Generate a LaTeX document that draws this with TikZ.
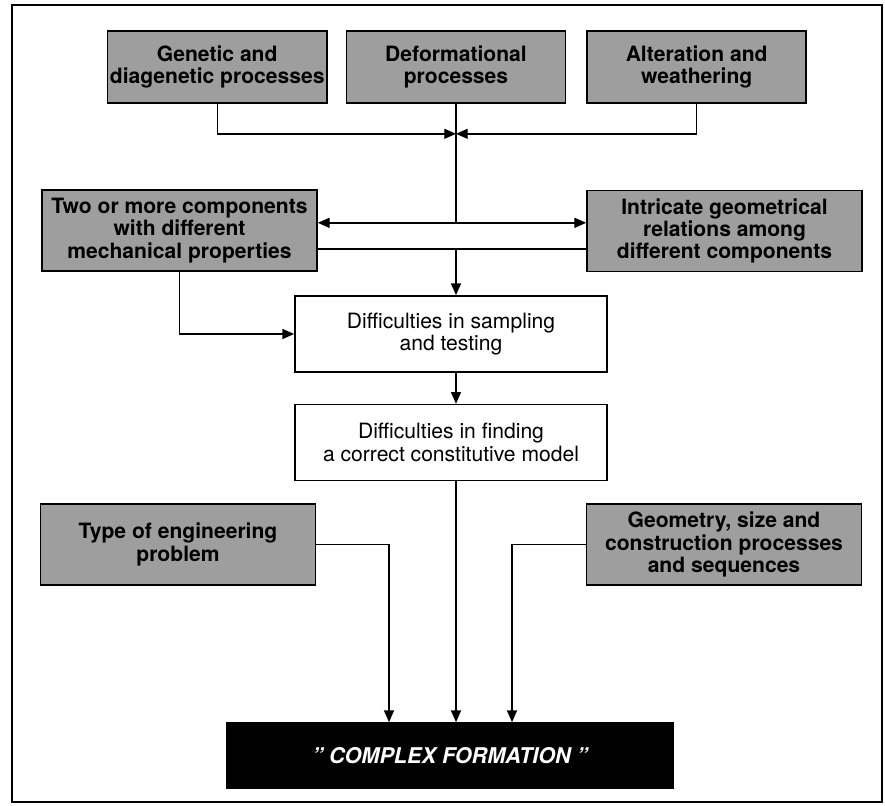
\documentclass[tikz,border=0pt]{standalone}
\usepackage{fontspec}
\setmainfont{TeX Gyre Heros}
\usetikzlibrary{arrows.meta,positioning,calc}

\begin{document}
\begin{tikzpicture}[
    x=0.03cm, y=-0.03cm,
    font=\fontsize{18}{19.5}\selectfont,
    cause/.style={rectangle, draw, line width=1.4pt, fill=black!38, align=center, inner sep=2pt, font=\fontsize{18}{19}\selectfont\bfseries},
    topbox/.style={cause, minimum width=6.57cm, minimum height=2.16cm},
    widebox/.style={cause, minimum width=8.25cm, minimum height=2.43cm},
    effect/.style={rectangle, draw, line width=1.4pt, fill=white, align=center, minimum width=9.36cm, minimum height=2.28cm},
    arrow/.style={-{Triangle[length=10pt, width=8.5pt]}, line width=1.2pt}
]
    \useasboundingbox (0,0) rectangle (885,806);
    % Frame
    \draw[line width=1.4pt] (12,5) rectangle (882,802);

    % Sources
    \node[topbox] (deform) at (456,67) {Deformational\\processes};
    \node[topbox, left=0.54cm of deform] (genetic) {Genetic and\\diagenetic processes};
    \node[topbox, right=0.6cm of deform] (alter) {Alteration and\\weathering};

    % Components
    \node[widebox] (twomore) at (179.5,230.5) {Two or more components\\with different\\mechanical properties};
    \node[widebox] (intricate) at (724.5,231) {Intricate geometrical\\relations among\\different components};

    % Difficulties
    \node[effect] (sampling) at (451,334) {Difficulties in sampling\\and testing};
    \node[effect, below=0.93cm of sampling] (finding) {Difficulties in finding\\a correct constitutive model};

    % Other factors
    \node[widebox] (type) at (178,544.5) {Type of engineering\\problem};
    \node[widebox] (geometry) at (724,544.5) {Geometry, size and\\construction processes\\and sequences};

    % Result
    \node[draw, line width=1.4pt, fill=black, text=white, minimum width=13.38cm, minimum height=1.95cm,
          font=\fontsize{18.5}{20}\selectfont\bfseries\itshape] (complex) at (450,755.5) {" COMPLEX FORMATION "};

    % Junctions
    \coordinate (meet) at ($(deform.south)+(0,30)$);
    \coordinate (split) at ($(meet)+(0,89)$);
    \coordinate (gather) at ($(split)+(0,26)$);
    \coordinate (typein) at ($(complex.north)+(-61,0)$);
    \coordinate (geomin) at ($(complex.north)+(62,0)$);

    % Arrows
    \foreach \x in {genetic, alter} {
        \draw[arrow] (\x.south) |- (meet);
    }
    \draw[line width=1.2pt] (deform.south) -- (split);
    \foreach \x in {twomore.east, intricate.west} {
        \draw[arrow] (split) -- (split -| \x);
    }
    \draw[line width=1.2pt] (gather -| twomore.east) -- (gather -| intricate.west);
    \draw[arrow] (gather) -- (gather |- sampling.north);
    \draw[arrow] (twomore.south) |- (sampling.west);
    \draw[arrow] (sampling.south -| gather) -- (finding.north -| gather);
    \draw[arrow] (finding.south -| gather) -- (complex.north -| gather);
    \draw[arrow] (type.east) -| (typein);
    \draw[arrow] (geometry.west) -| (geomin);
\end{tikzpicture}
\end{document}
